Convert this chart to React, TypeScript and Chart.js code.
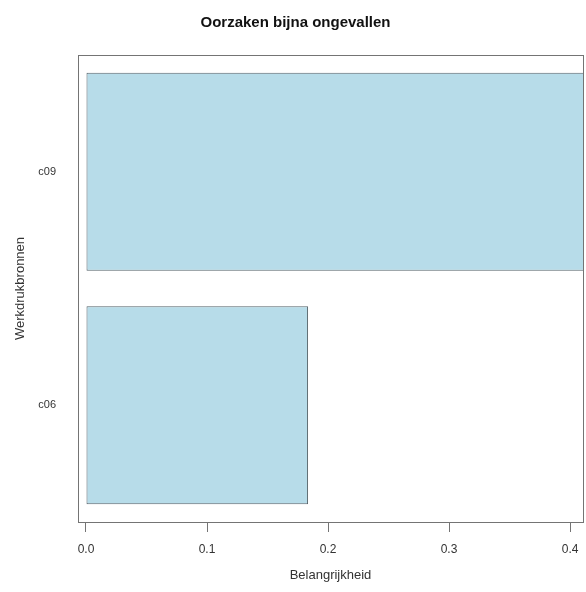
import React, { useEffect, useRef } from "react";
import { Chart, registerables } from "chart.js";

Chart.register(...registerables);

const categories = ["c09", "c06"];
const values = [0.42, 0.1835];
const xTicks = [0, 0.1, 0.2, 0.3, 0.4];
const titleText = "Oorzaken bijna ongevallen";
const xTitle = "Belangrijkheid";
const yTitle = "Werkdrukbronnen";

const FONT = "'Liberation Sans', Arial, Helvetica, sans-serif";

const boxPlugin = {
  id: "rbox",
  afterDatasetsDraw(chart: any) {
    const { ctx, chartArea } = chart;
    ctx.save();
    ctx.strokeStyle = "#747474";
    ctx.lineWidth = 1;
    ctx.strokeRect(
      Math.round(chartArea.left) + 0.5,
      Math.round(chartArea.top) + 0.5,
      Math.round(chartArea.right - chartArea.left),
      Math.round(chartArea.bottom - chartArea.top)
    );
    ctx.restore();
  },
};

export default function App() {
  const ref = useRef<HTMLCanvasElement | null>(null);
  useEffect(() => {
    if (!ref.current) return;
    const chart = new Chart(ref.current, {
      type: "bar",
      data: {
        labels: categories,
        datasets: [
          {
            data: values,
            backgroundColor: "#b7dce9",
            borderColor: "#56636a",
            borderWidth: 1,
            borderSkipped: false,
            categoryPercentage: 1,
            barPercentage: 0.848,
          },
        ],
      },
      options: {
        indexAxis: "y",
        animation: false,
        responsive: false,
        maintainAspectRatio: false,
        layout: { padding: { left: 8, right: 3, top: 0, bottom: 0 } },
        plugins: {
          legend: { display: false },
          tooltip: { enabled: false },
          title: {
            display: true,
            text: titleText,
            color: "#111",
            font: { family: FONT, size: 15, weight: "bold" },
            padding: { top: 14, bottom: 23 },
          },
        },
        scales: {
          x: {
            type: "linear",
            min: -0.0066,
            max: 0.4107,
            afterBuildTicks: (s: any) => {
              s.ticks = xTicks.map((v) => ({ value: v }));
            },
            afterFit: (s: any) => {
              s.height = 70;
              s.paddingLeft = 0;
              s.paddingRight = 0;
            },
            border: { display: false },
            grid: {
              drawOnChartArea: false,
              drawTicks: true,
              tickLength: 10,
              color: "#747474",
            },
            ticks: {
              color: "#333",
              font: { family: FONT, size: 12 },
              padding: 10,
              maxRotation: 0,
              autoSkip: false,
              callback: (v: any) => Number(v).toFixed(1),
            },
            title: {
              display: true,
              text: xTitle,
              color: "#333",
              font: { family: FONT, size: 13 },
              padding: { top: 0, bottom: 9 },
            },
          },
          y: {
            type: "category",
            afterFit: (s: any) => {
              s.width = 70;
              s.paddingTop = 0;
              s.paddingBottom = 0;
            },
            border: { display: false },
            grid: { display: false, drawTicks: false },
            ticks: {
              color: "#333",
              font: { family: FONT, size: 11 },
              padding: 22,
            },
            title: {
              display: true,
              text: yTitle,
              color: "#333",
              font: { family: FONT, size: 13 },
              padding: { top: 5, bottom: 0 },
            },
          },
        },
      },
      plugins: [boxPlugin],
    } as any);
    return () => chart.destroy();
  }, []);
  return (
    <div style={{ position: "fixed", left: 0, top: 0, width: 586, height: 592, background: "#fff" }}>
      <canvas ref={ref} width={586} height={592} style={{ width: 586, height: 592, display: "block" }} />
    </div>
  );
}
